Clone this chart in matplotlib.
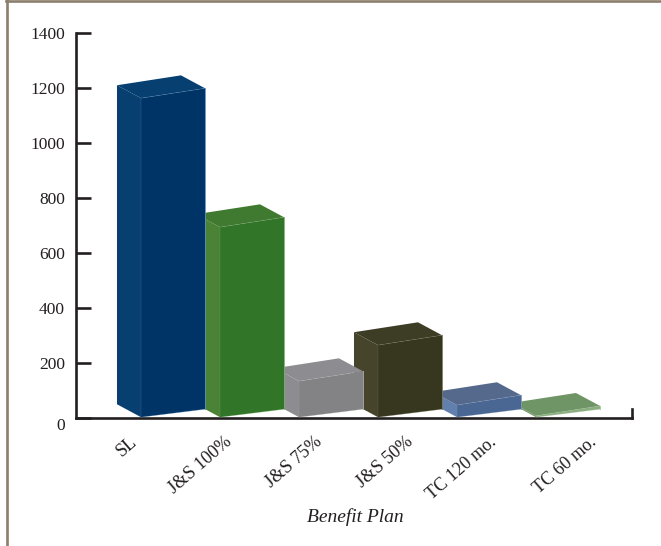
#!/usr/bin/env python3
"""Benefit plan bar chart with hand drawn 3D boxes."""

import matplotlib
matplotlib.use('Agg')
import matplotlib.pyplot as plt
from matplotlib.lines import Line2D
from matplotlib.patches import Polygon
from matplotlib.transforms import ScaledTranslation

# data
plans = ['SL', 'J&S 100%', 'J&S 75%', 'J&S 50%', 'TC 120 mo.', 'TC 60 mo.']
values = [1160, 691, 131, 262, 44, 5]
y_ticks = [0, 200, 400, 600, 800, 1000, 1200, 1400]

# colours: front, side, top, edge highlight
front_colors = ['#003366', '#307528', '#838385', '#373720', '#4A6794', '#8AAE80']
side_colors = ['#063F70', '#4A8236', '#8D8C91', '#46452C', '#6180AE', '#6F9465']
top_colors = ['#063F70', '#3F7A30', '#8D8C91', '#3D3C25', '#55698C', '#6F9465']
edge_colors = ['#5C8FBF', '#7DAA70', '#ABABAB', '#77755A', '#7C97C0', '#A5C49C']

FRAME = '#8C7F6C'
INK = '#231F20'

# box geometry in data units (one category = 79 px, 1 value = 0.275 px)
WIDTH = 0.81
DEPTH_X = 0.304
DEPTH_Y = 47
BASE = 3
SKEW_BOTTOM = 29
SKEW_TOP = 36

# x nudges (px) for the rotated category labels, they are not evenly spaced
label_nudge = [-44, -28, -17, -5, 0, 21]

plt.rcParams['font.family'] = ['Liberation Serif', 'DejaVu Serif']


def draw_box(ax, i, value, zorder):
    xl = i - WIDTH / 2
    xr = i + WIDTH / 2
    top = BASE + value
    front = [(xl, BASE), (xr, BASE + SKEW_BOTTOM), (xr, top + SKEW_TOP), (xl, top)]
    side = [(xl, BASE), (xl, top), (xl - DEPTH_X, top + DEPTH_Y), (xl - DEPTH_X, BASE + DEPTH_Y)]
    lid = [(xl, top), (xr, top + SKEW_TOP), (xr - DEPTH_X, top + SKEW_TOP + DEPTH_Y),
           (xl - DEPTH_X, top + DEPTH_Y)]
    ax.add_patch(Polygon(side, closed=True, fc=side_colors[i], ec='none', zorder=zorder))
    ax.add_patch(Polygon(front, closed=True, fc=front_colors[i], ec='none', zorder=zorder))
    ax.add_patch(Polygon(lid, closed=True, fc=top_colors[i], ec='none', zorder=zorder))
    # light right edge, the others are much fainter
    ax.plot([xr, xr], [BASE + SKEW_BOTTOM, top + SKEW_TOP],
            color=edge_colors[i], lw=0.7, alpha=0.9, zorder=zorder)
    ax.plot([xr, xl, xl, xr], [top + SKEW_TOP, top, BASE, BASE + SKEW_BOTTOM],
            color=edge_colors[i], lw=0.5, alpha=0.35, zorder=zorder)


fig = plt.figure(figsize=(6.61, 5.46), dpi=100)
W, H = 661.0, 546.0
ax = fig.add_axes([76 / W, 1 - 418 / H, (632 - 76) / W, (418 - 33) / H])
ax.set_xlim((76 - 173) / 79, (632 - 173) / 79)
ax.set_ylim(0, 1400)
ax.patch.set_alpha(0)

for s in ['top', 'right']:
    ax.spines[s].set_visible(False)
for s in ['left', 'bottom']:
    ax.spines[s].set_linewidth(1.9)
    ax.spines[s].set_color(INK)
    ax.spines[s].set_zorder(1)

# boxes overlap, so paint from the right to the left
for i in reversed(range(len(plans))):
    draw_box(ax, i, values[i], 10 + len(plans) - i)

# small upright stop at the end of the x axis
ax.plot([ax.get_xlim()[1]] * 2, [0, 33], color=INK, lw=1.9, clip_on=False, zorder=2)

ax.set_yticks(y_ticks)
ax.tick_params(axis='y', direction='in', length=11, width=1.9, color=INK, pad=8,
               labelsize=12.5, labelcolor=INK)
for lab, v in zip(ax.get_yticklabels(), y_ticks):
    if v == 0:
        lab.set_transform(lab.get_transform() + ScaledTranslation(0, -6 / 100, fig.dpi_scale_trans))

ax.set_xticks(range(len(plans)))
ax.set_xticklabels(plans)
ax.tick_params(axis='x', length=0, pad=11, labelsize=13, labelcolor=INK)
for lab, nudge in zip(ax.get_xticklabels(), label_nudge):
    lab.set_rotation(41)
    lab.set_ha('right')
    lab.set_va('top')
    lab.set_rotation_mode('anchor')
    lab.set_transform(lab.get_transform() + ScaledTranslation(nudge / 100, 0, fig.dpi_scale_trans))

fig.text(355 / W, 1 - 517 / H, 'Benefit Plan', style='italic', fontsize=14, color=INK,
         ha='center', va='center')

# tan frame on the top and left of the page
fig.add_artist(Line2D([7.3 / W, 7.3 / W], [0, 1], color=FRAME, lw=1.9))
fig.add_artist(Line2D([6 / W, 1], [1 - 1.2 / H, 1 - 1.2 / H], color=FRAME, lw=1.9))

fig.savefig('out.png', dpi=100)
